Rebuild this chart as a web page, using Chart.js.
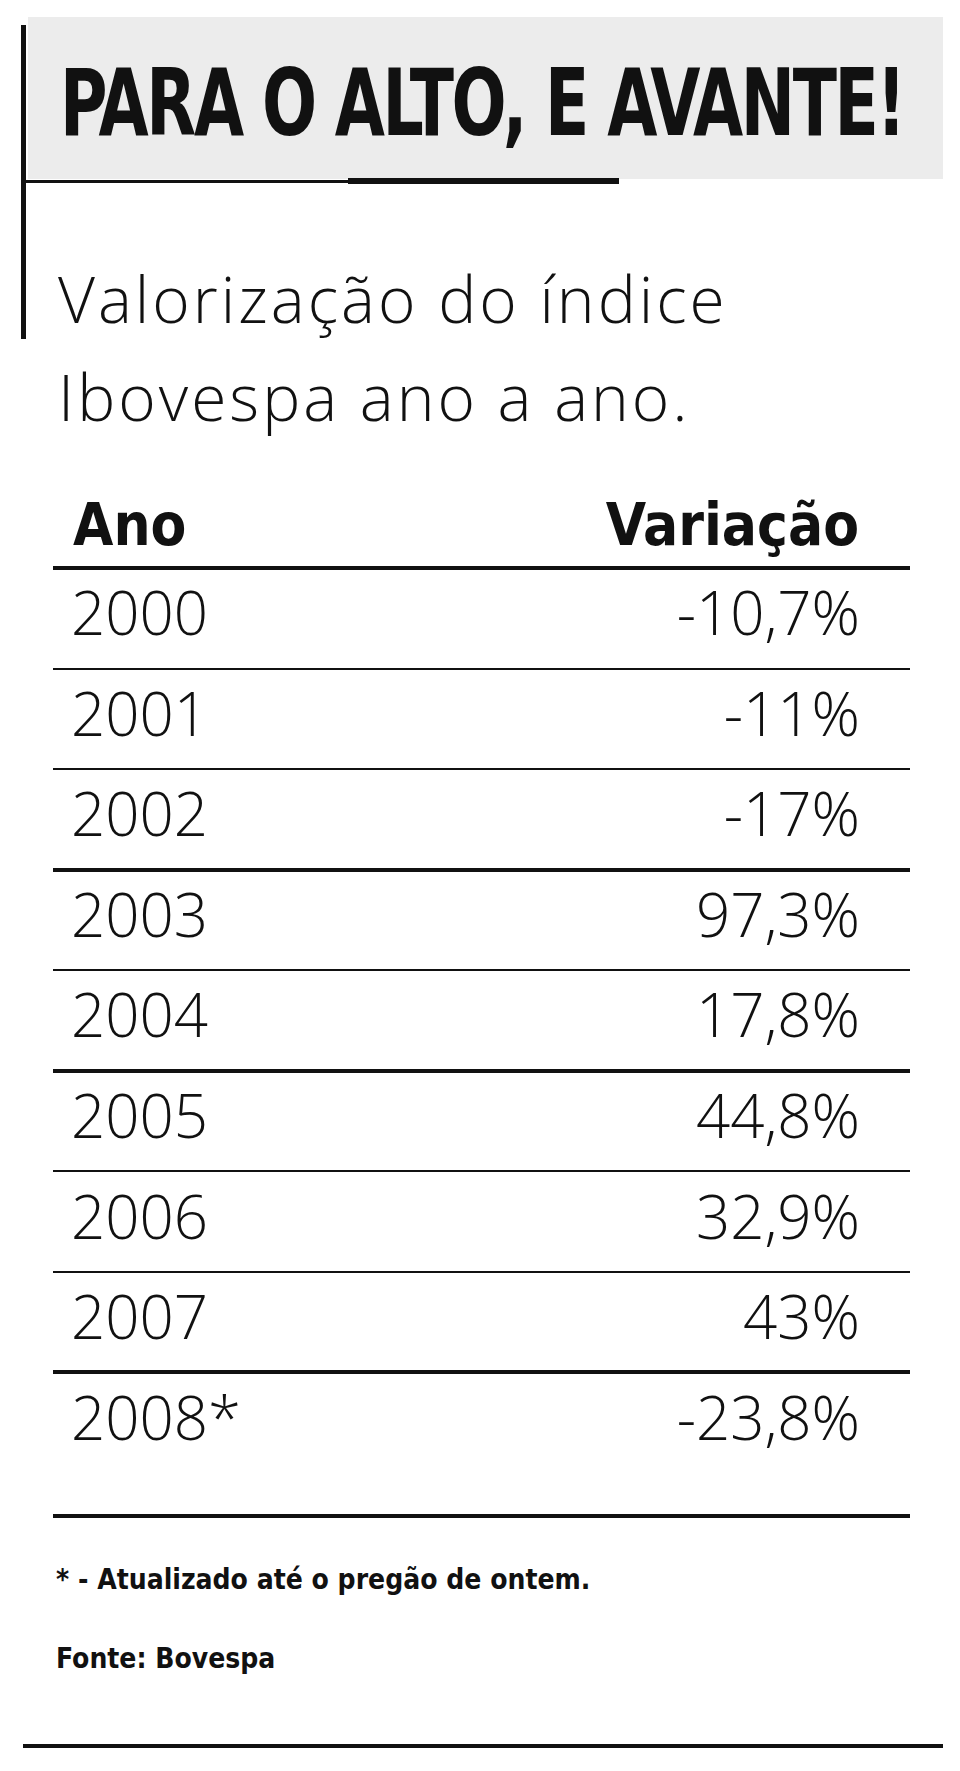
<!DOCTYPE html>
<html>
<head>
<meta charset="utf-8">
<script src="https://cdn.jsdelivr.net/npm/chart.js@4/dist/chart.umd.min.js"></script>
<style>
    body { margin: 0; background: #fff; width: 960px; height: 1771px; position: relative; overflow: hidden; font-family: "Open Sans", sans-serif; color: #111; }
    .abs { position: absolute; }
    #titleBox { left: 28px; top: 17px; width: 915px; height: 162px; background: #ececec; }
    #leftBar { left: 21px; top: 25px; width: 5px; height: 314px; background: #111; }
    #thinRule { left: 26px; top: 180px; width: 593px; height: 3px; background: #111; }
    #thickRule { left: 348px; top: 178px; width: 271px; height: 6px; background: #111; }
    #title { left: 60px; top: 54px; font-family: "Liberation Sans Narrow", "DejaVu Sans Condensed", sans-serif; font-weight: bold; font-size: 92px; line-height: 100px; white-space: nowrap; transform-origin: left top; letter-spacing: -3px; }
    #subtitle { left: 58px; top: 250px; font-size: 64px; font-weight: 300; line-height: 98px; letter-spacing: 3px; }
    .head { top: 495px; font-family: "Liberation Sans Narrow", "DejaVu Sans Condensed", sans-serif; font-weight: bold; font-size: 58px; line-height: 60px; }
    #note { left: 56px; top: 1563px; font-family: "Liberation Sans Narrow", "DejaVu Sans Condensed", sans-serif; font-weight: bold; font-size: 28px; }
    #source { left: 56px; top: 1642px; font-family: "Liberation Sans Narrow", "DejaVu Sans Condensed", sans-serif; font-weight: bold; font-size: 28px; }
    #bottomRule { left: 23px; top: 1744px; width: 920px; height: 4px; background: #111; }
    #wrap { left: 53px; top: 560px; width: 857px; height: 964px; }
</style>
</head>
<body>
<div class="abs" id="titleBox"></div>
<div class="abs" id="leftBar"></div>
<div class="abs" id="thinRule"></div>
<div class="abs" id="thickRule"></div>
<div class="abs" id="title">PARA O ALTO, E AVANTE!</div>
<div class="abs" id="subtitle">Valorização do índice<br>Ibovespa ano a ano.</div>
<div class="abs head" style="left:73px">Ano</div>
<div class="abs head" style="right:101px">Variação</div>
<div class="abs" id="wrap"><canvas id="table"></canvas></div>
<div class="abs" id="note">* - Atualizado até o pregão de ontem.</div>
<div class="abs" id="source">Fonte: Bovespa</div>
<div class="abs" id="bottomRule"></div>
<script>
const years = ['2000', '2001', '2002', '2003', '2004', '2005', '2006', '2007', '2008*'];
const variation = ['-10,7%', '-11%', '-17%', '97,3%', '17,8%', '44,8%', '32,9%', '43%', '-23,8%'];
const thickAfter = [-1, 2, 4, 7, 8];

// fit the title to the grey box width
const titleEl = document.getElementById('title');
titleEl.style.transform = `scaleX(${844 / titleEl.scrollWidth})`;

const tableText = {
    id: 'tableText',
    afterDatasetsDraw(chart) {
        const ctx = chart.ctx;
        const y = chart.scales.y;
        const area = chart.chartArea;
        const meta = chart.getDatasetMeta(0);

        ctx.save();
        ctx.strokeStyle = '#111';
        for (let i = -1; i < years.length; i++) {
            const thick = thickAfter.includes(i);
            const edge = i === years.length - 1 ? y.max : i + 0.5;
            const py = Math.round(y.getPixelForValue(edge));
            ctx.lineWidth = thick ? 4 : 2;
            ctx.beginPath();
            ctx.moveTo(area.left, py);
            ctx.lineTo(area.right, py);
            ctx.stroke();
        }

        ctx.fillStyle = '#111';
        ctx.font = '300 60px "Open Sans", sans-serif';
        ctx.textBaseline = 'middle';
        meta.data.forEach((point, i) => {
            ctx.textAlign = 'left';
            ctx.fillText(years[i], area.left + 18, point.y);
            ctx.textAlign = 'right';
            ctx.fillText(variation[i], area.right - 50, point.y);
        });
        ctx.restore();
    }
};

new Chart(document.getElementById('table'), {
    type: 'scatter',
    data: {
        datasets: [{
            data: years.map((year, i) => ({ x: 0.5, y: i })),
            pointRadius: 0,
        }]
    },
    options: {
        responsive: true,
        maintainAspectRatio: false,
        animation: false,
        events: [],
        layout: { padding: { top: 8, bottom: 8 } },
        plugins: { legend: { display: false }, tooltip: { enabled: false } },
        scales: {
            x: { display: false, min: 0, max: 1 },
            y: { display: false, reverse: true, min: -0.5, max: 8.93 }
        }
    },
    plugins: [tableText]
});
</script>
</body>
</html>
